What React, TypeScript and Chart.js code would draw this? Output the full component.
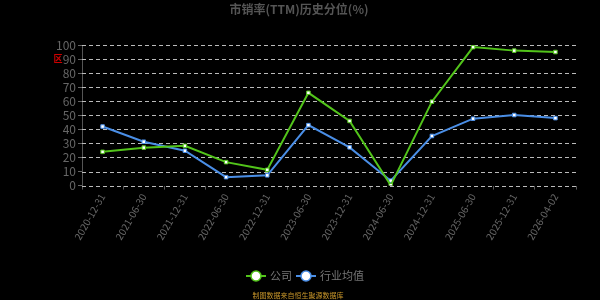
import React, { useEffect, useRef } from "react";
import { Chart, registerables } from "chart.js";

Chart.register(...registerables);

const categories = [
  "2020-12-31", "2021-06-30", "2021-12-31", "2022-06-30", "2022-12-31", "2023-06-30",
  "2023-12-31", "2024-06-30", "2024-12-31", "2025-06-30", "2025-12-31", "2026-04-02",
];
const companyValues = [24, 27, 28.3, 16.7, 11.2, 66, 46, 0.2, 59.7, 98.5, 96, 95];
const industryValues = [42, 31.2, 24.8, 6, 7.3, 43, 27.2, 3.5, 35.3, 47.6, 50.2, 48];
const yTicks = [0, 10, 20, 30, 40, 50, 60, 70, 80, 90, 100];

const titleText = "市销率(TTM)历史分位(%)";
const legendLabels = ["公司", "行业均值"];
const footerText = "制图数据来自恒生聚源数据库";

const GREEN = "#52c41a";
const BLUE = "#4a8ee6";
const FONT = "'Noto Sans CJK SC', 'DejaVu Sans', sans-serif";

const gridPlugin = {
  id: "dashGrid",
  beforeDatasetsDraw(chart: any) {
    const ctx = chart.ctx;
    const y = chart.scales.y;
    const area = chart.chartArea;
    ctx.save();
    ctx.strokeStyle = "#bbb";
    ctx.lineWidth = 1;
    ctx.setLineDash([4, 3]);
    yTicks.forEach((v) => {
      const py = Math.round(y.getPixelForValue(v)) + 0.5;
      ctx.beginPath();
      ctx.moveTo(area.left, py);
      ctx.lineTo(area.right, py);
      ctx.stroke();
    });
    ctx.restore();
  },
};

const decorPlugin = {
  id: "decor",
  afterDraw(chart: any) {
    const ctx = chart.ctx;
    ctx.save();
    ctx.fillStyle = "#555";
    ctx.font = `bold 12px ${FONT}`;
    ctx.textAlign = "center";
    ctx.textBaseline = "middle";
    ctx.fillText(titleText, 299, 9);
    ctx.fillStyle = "#cc0000";
    ctx.font = `bold 9px ${FONT}`;
    ctx.fillText("区", 58, 59);
    const items = [
      { x: 246, color: GREEN, label: legendLabels[0] },
      { x: 296, color: BLUE, label: legendLabels[1] },
    ];
    const ly = 276;
    items.forEach((it) => {
      ctx.strokeStyle = it.color;
      ctx.lineWidth = 2;
      ctx.beginPath();
      ctx.moveTo(it.x, ly);
      ctx.lineTo(it.x + 20, ly);
      ctx.stroke();
      ctx.beginPath();
      ctx.arc(it.x + 10, ly, 5, 0, Math.PI * 2);
      ctx.fillStyle = "#fff";
      ctx.fill();
      ctx.lineWidth = 1.5;
      ctx.stroke();
      ctx.fillStyle = "#777";
      ctx.font = `11px ${FONT}`;
      ctx.textAlign = "left";
      ctx.fillText(it.label, it.x + 24, ly);
    });
    ctx.fillStyle = "#c8962a";
    ctx.font = `7px ${FONT}`;
    ctx.textAlign = "center";
    ctx.fillText(footerText, 298, 295);
    ctx.restore();
  },
};

export default function App() {
  const ref = useRef<HTMLCanvasElement>(null);
  useEffect(() => {
    document.body.style.margin = "0";
    document.body.style.background = "#000";
    const chart = new Chart(ref.current as HTMLCanvasElement, {
      type: "line",
      data: {
        labels: categories,
        datasets: [
          {
            label: legendLabels[0],
            data: companyValues,
            borderColor: GREEN,
            backgroundColor: "#fff",
            borderWidth: 2,
            pointStyle: "rect",
            pointRadius: 2.5,
            pointBorderColor: GREEN,
            pointBackgroundColor: "#fff",
            pointBorderWidth: 1,
            tension: 0,
          },
          {
            label: legendLabels[1],
            data: industryValues,
            borderColor: BLUE,
            backgroundColor: "#fff",
            borderWidth: 2,
            pointStyle: "rect",
            pointRadius: 2.5,
            pointBorderColor: BLUE,
            pointBackgroundColor: "#fff",
            pointBorderWidth: 1,
            tension: 0,
          },
        ],
      },
      options: {
        animation: false,
        responsive: false,
        layout: { padding: { top: 45, left: 0, right: 24, bottom: 0 } },
        plugins: {
          legend: { display: false },
          title: { display: false },
          tooltip: { enabled: false },
        },
        scales: {
          x: {
            offset: true,
            grid: {
              display: true,
              offset: true,
              drawOnChartArea: false,
              drawTicks: true,
              tickLength: 4,
              color: "#555",
            },
            border: { display: false },
            ticks: {
              color: "#666",
              font: { size: 10, family: FONT },
              maxRotation: 60,
              minRotation: 60,
              autoSkip: false,
              padding: 2,
            },
            afterFit(scale: any) {
              scale.height = 114.4;
            },
          },
          y: {
            min: 0,
            max: 100,
            afterBuildTicks(scale: any) {
              scale.ticks = yTicks.map((v) => ({ value: v }));
            },
            grid: {
              drawOnChartArea: false,
              tickLength: 4,
              color: "#666",
            },
            border: { display: true, color: "#555" },
            ticks: {
              color: "#666",
              autoSkip: false,
              font: { size: 12, family: FONT },
              padding: 2,
            },
            afterFit(scale: any) {
              scale.width = 82;
            },
          },
        },
      },
      plugins: [gridPlugin, decorPlugin],
    } as any);
    return () => chart.destroy();
  }, []);
  return <canvas ref={ref} width={600} height={300} style={{ display: "block", background: "#000" }} />;
}
